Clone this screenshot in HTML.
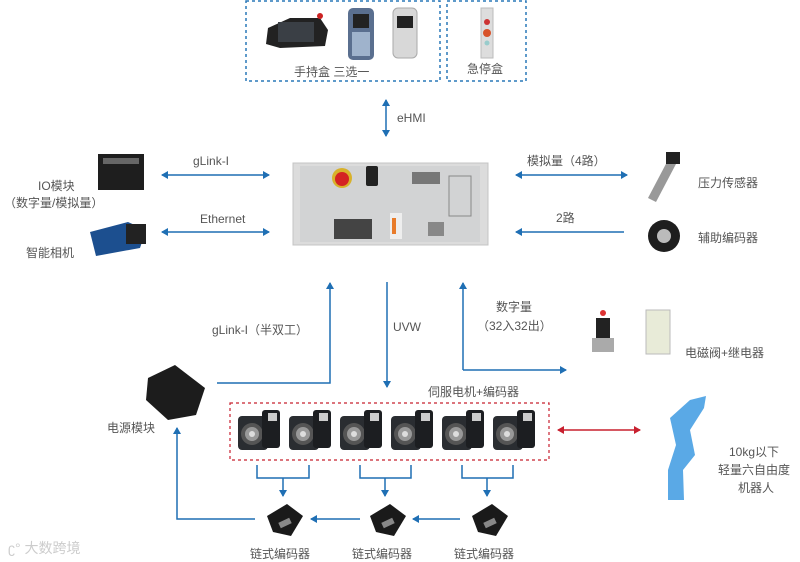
<!DOCTYPE html>
<html><head><meta charset="utf-8"><style>
html,body{margin:0;padding:0;background:#fff;}
svg{display:block;}
text{font-family:"Liberation Sans","Noto Sans CJK SC",sans-serif;fill:#555;font-size:12px;}
</style></head><body>
<svg width="800" height="562" viewBox="0 0 800 562" xmlns="http://www.w3.org/2000/svg">
<defs>
<marker id="ab" markerWidth="8" markerHeight="8" refX="6" refY="4" orient="auto-start-reverse" markerUnits="userSpaceOnUse"><path d="M0,0 L7,4 L0,8 Z" fill="#1f6fb4"/></marker>
<marker id="ar" markerWidth="8" markerHeight="8" refX="6" refY="4" orient="auto-start-reverse" markerUnits="userSpaceOnUse"><path d="M0,0 L7,4 L0,8 Z" fill="#c8202f"/></marker>
<g id="motor"><rect x="0" y="6" width="30" height="34" rx="4" fill="#2a2d31"/><circle cx="14" cy="24" r="11" fill="#555"/><circle cx="14" cy="24" r="7" fill="#999"/><circle cx="14" cy="24" r="3" fill="#ddd"/><rect x="24" y="0" width="18" height="38" rx="3" fill="#1c1e21"/><rect x="30" y="3" width="9" height="8" fill="#ccc"/></g>
<g id="chain"><path d="M4,14 L24,2 L40,14 L28,34 L10,30 Z" fill="#1a1a1a"/><rect x="16" y="18" width="12" height="6" fill="#888" transform="rotate(-25 22 21)"/></g>
</defs>
<!-- top boxes -->
<rect x="246" y="1" width="194" height="80" fill="none" stroke="#2a78b8" stroke-width="1.5" stroke-dasharray="3,3"/>
<rect x="447" y="1" width="79" height="80" fill="none" stroke="#2a78b8" stroke-width="1.5" stroke-dasharray="3,3"/>
<g>
<path d="M268,28 L290,18 L320,18 L328,30 L325,46 L280,48 L266,44 Z" fill="#222"/><rect x="278" y="22" width="36" height="20" fill="#3a3f45"/><circle cx="320" cy="16" r="3" fill="#c22"/>
<rect x="348" y="8" width="26" height="52" rx="5" fill="#5a6f8f"/><rect x="353" y="14" width="16" height="14" fill="#222"/><rect x="352" y="32" width="18" height="24" fill="#9fb3cc"/>
<rect x="393" y="8" width="24" height="50" rx="5" fill="#d8d8d8" stroke="#aaa"/><rect x="397" y="16" width="16" height="12" fill="#222"/>
<rect x="481" y="8" width="12" height="50" fill="#ddd" stroke="#bbb"/><circle cx="487" cy="22" r="3" fill="#c33"/><circle cx="487" cy="33" r="4" fill="#d8522a"/><circle cx="487" cy="43" r="2.5" fill="#9cc"/>
</g>
<text x="294" y="76">手持盒 三选一</text>
<text x="467" y="73">急停盒</text>
<!-- eHMI -->
<line x1="386" y1="100" x2="386" y2="136" stroke="#1f6fb4" stroke-width="1.5" marker-start="url(#ab)" marker-end="url(#ab)"/>
<text x="397" y="122">eHMI</text>
<!-- controller -->
<rect x="293" y="163" width="195" height="82" fill="#dcdcdc" stroke="#c4c4c4"/>
<rect x="300" y="166" width="180" height="76" fill="#d2d3d4"/>
<circle cx="342" cy="178" r="10" fill="#d8b12a"/><circle cx="342" cy="179" r="7" fill="#d42222"/>
<rect x="366" y="166" width="12" height="20" rx="2" fill="#222"/>
<rect x="412" y="172" width="28" height="12" fill="#777"/>
<rect x="449" y="176" width="22" height="40" fill="none" stroke="#888"/>
<rect x="334" y="219" width="38" height="20" fill="#444"/>
<rect x="390" y="213" width="12" height="26" fill="#eee"/><rect x="392" y="218" width="4" height="16" fill="#e87b2a"/>
<rect x="428" y="222" width="16" height="14" fill="#888"/>
<!-- left -->
<line x1="162" y1="175" x2="269" y2="175" stroke="#1f6fb4" stroke-width="1.5" marker-start="url(#ab)" marker-end="url(#ab)"/>
<text x="193" y="165">gLink-I</text>
<line x1="162" y1="232" x2="269" y2="232" stroke="#1f6fb4" stroke-width="1.5" marker-start="url(#ab)" marker-end="url(#ab)"/>
<text x="200" y="223">Ethernet</text>
<rect x="98" y="154" width="46" height="36" fill="#1e1e1e"/><rect x="103" y="158" width="36" height="6" fill="#666"/>
<text x="38" y="190">IO模块</text>
<text x="4" y="207">（数字量/模拟量）</text>
<path d="M90,232 L128,222 L146,230 L140,248 L96,256 Z" fill="#1c4f8f"/><rect x="126" y="224" width="20" height="20" fill="#222"/>
<text x="26" y="257">智能相机</text>
<!-- right -->
<line x1="516" y1="175" x2="627" y2="175" stroke="#1f6fb4" stroke-width="1.5" marker-start="url(#ab)" marker-end="url(#ab)"/>
<text x="527" y="165">模拟量（4路）</text>
<line x1="516" y1="232" x2="624" y2="232" stroke="#1f6fb4" stroke-width="1.5" marker-start="url(#ab)"/>
<text x="556" y="222">2路</text>
<path d="M648,198 L668,160 L676,164 L656,202 Z" fill="#999"/><rect x="666" y="152" width="14" height="12" fill="#222"/>
<text x="698" y="187">压力传感器</text>
<circle cx="664" cy="236" r="16" fill="#1e1e1e"/><circle cx="664" cy="236" r="7" fill="#bbb"/>
<text x="698" y="242">辅助编码器</text>
<!-- bottom connectors -->
<polyline points="217,383 330,383 330,283" fill="none" stroke="#1f6fb4" stroke-width="1.5" marker-end="url(#ab)"/>
<text x="212" y="334">gLink-I（半双工）</text>
<line x1="387" y1="282" x2="387" y2="387" stroke="#1f6fb4" stroke-width="1.5" marker-end="url(#ab)"/>
<text x="393" y="331">UVW</text>
<polyline points="463,370 463,283" fill="none" stroke="#1f6fb4" stroke-width="1.5" marker-end="url(#ab)"/>
<line x1="463" y1="370" x2="566" y2="370" stroke="#1f6fb4" stroke-width="1.5" marker-end="url(#ab)"/>
<text x="496" y="311">数字量</text>
<text x="477" y="330">（32入32出）</text>
<rect x="596" y="318" width="14" height="22" fill="#222"/><rect x="592" y="338" width="22" height="14" fill="#aaa"/><circle cx="603" cy="313" r="3" fill="#d33"/>
<rect x="646" y="310" width="24" height="44" fill="#e8ebd8" stroke="#bbb"/>
<text x="685" y="357">电磁阀+继电器</text>
<path d="M148,378 L175,365 L205,388 L196,415 L168,420 L146,400 Z" fill="#1c1c1c"/>
<text x="107" y="432">电源模块</text>
<!-- motors -->
<rect x="230" y="403" width="319" height="57" fill="none" stroke="#c8202f" stroke-width="1.2" stroke-dasharray="3,3"/>
<text x="428" y="396">伺服电机+编码器</text>
<use href="#motor" x="238" y="410"/><use href="#motor" x="289" y="410"/><use href="#motor" x="340" y="410"/><use href="#motor" x="391" y="410"/><use href="#motor" x="442" y="410"/><use href="#motor" x="493" y="410"/>
<line x1="558" y1="430" x2="640" y2="430" stroke="#c8202f" stroke-width="1.5" marker-start="url(#ar)" marker-end="url(#ar)"/>
<path d="M690,400 L706,396 L704,408 L690,430 L695,455 L683,470 L684,500 L668,500 L668,470 L676,445 L670,418 Z" fill="#5aa9e6"/>
<text x="729" y="456">10kg以下</text>
<text x="718" y="474">轻量六自由度</text>
<text x="738" y="492">机器人</text>
<!-- brackets -->
<g fill="none" stroke="#1f6fb4" stroke-width="1.5">
<polyline points="257,465 257,478 309,478 309,465"/><polyline points="360,465 360,478 411,478 411,465"/><polyline points="462,465 462,478 513,478 513,465"/>
</g>
<line x1="283" y1="478" x2="283" y2="496" stroke="#1f6fb4" stroke-width="1.5" marker-end="url(#ab)"/>
<line x1="385" y1="478" x2="385" y2="496" stroke="#1f6fb4" stroke-width="1.5" marker-end="url(#ab)"/>
<line x1="487" y1="478" x2="487" y2="496" stroke="#1f6fb4" stroke-width="1.5" marker-end="url(#ab)"/>
<use href="#chain" x="263" y="502"/><use href="#chain" x="366" y="502"/><use href="#chain" x="468" y="502"/>
<line x1="360" y1="519" x2="311" y2="519" stroke="#1f6fb4" stroke-width="1.5" marker-end="url(#ab)"/>
<line x1="460" y1="519" x2="413" y2="519" stroke="#1f6fb4" stroke-width="1.5" marker-end="url(#ab)"/>
<polyline points="255,519 177,519 177,428" fill="none" stroke="#1f6fb4" stroke-width="1.5" marker-end="url(#ab)"/>
<text x="250" y="558">链式编码器</text>
<text x="352" y="558">链式编码器</text>
<text x="454" y="558">链式编码器</text>
<text x="8" y="553" style="fill:#ccc;font-size:14px;">ʗ° 大数跨境</text>
</svg>
</body></html>
